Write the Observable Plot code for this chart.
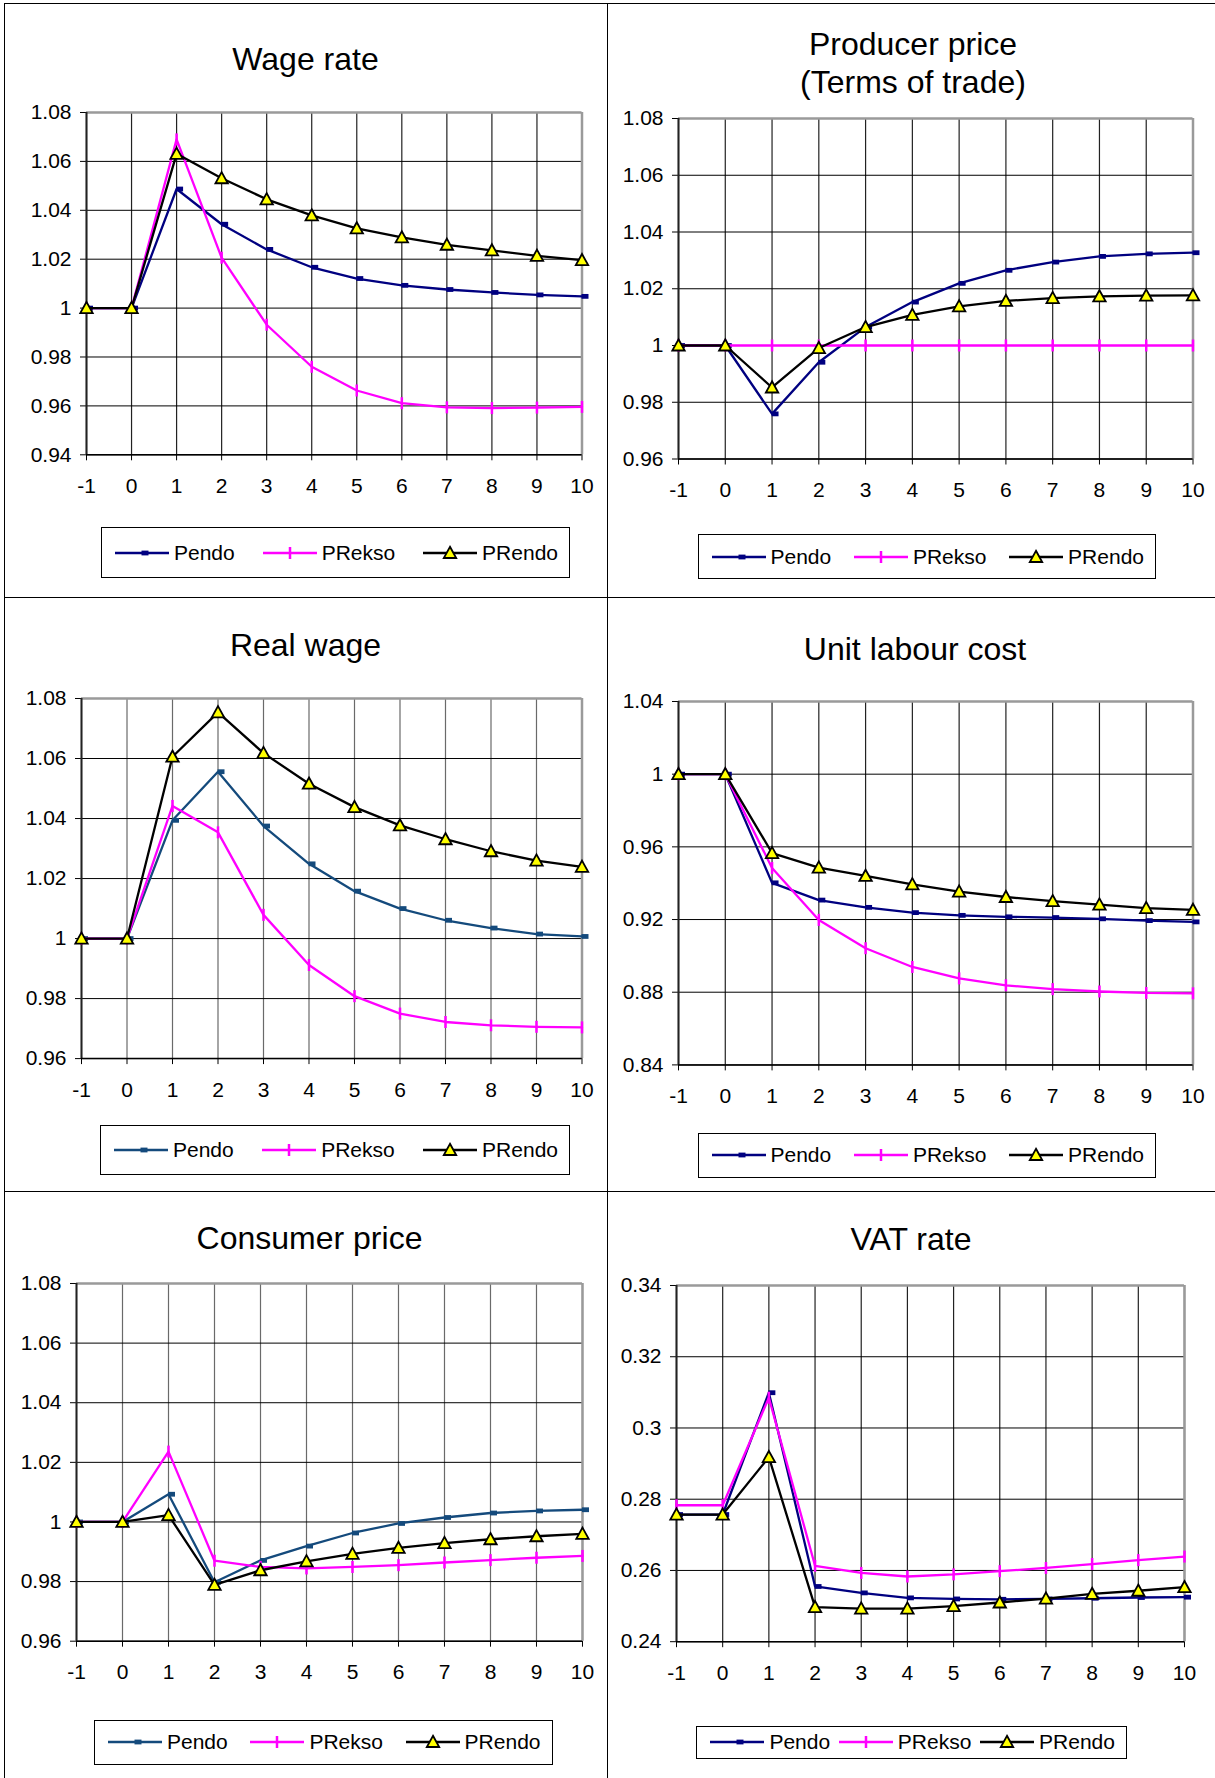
<!DOCTYPE html>
<html>
<head>
<meta charset="utf-8">
<script src="https://cdn.jsdelivr.net/npm/d3@7"></script>
<script src="https://cdn.jsdelivr.net/npm/@observablehq/plot@0.6"></script>
<style>
  html, body { margin: 0; padding: 0; background: #fff; }
  #page { position: relative; width: 1215px; height: 1778px; overflow: hidden; background: #fff;
          font-family: 'Liberation Sans', Arial, sans-serif; color: #000; }
  .abs { position: absolute; }
  .title { font-size: 32px; line-height: 38px; text-align: center; white-space: pre; }
  .legend { box-sizing: border-box; border: 1px solid #000; background: #fff; display: flex;
            align-items: center; justify-content: space-between; padding: 0 11px 0 13px; }
  .legend .item { display: flex; align-items: center; }
  .legend span { font-size: 21px; margin-left: 5px; line-height: 24px; }
  .hline { position: absolute; height: 0; border-top: 1.5px solid #000; }
  .vline { position: absolute; width: 0; border-left: 1.5px solid #000; }
  svg { max-width: none !important; }
</style>
</head>
<body>
<div id="page"></div>
<script>
// ---------- data ----------
const years = [-1, 0, 1, 2, 3, 4, 5, 6, 7, 8, 9, 10];
const seriesNames = ["Pendo", "PRekso", "PRendo"];

// Wage rate
const wagePendo  = [1, 1, 1.0487, 1.0343, 1.0240, 1.0167, 1.0121, 1.0093, 1.0076, 1.0064, 1.0054, 1.0048];
const wagePRekso = [1, 1, 1.0690, 1.0206, 0.9932, 0.9760, 0.9663, 0.9611, 0.9594, 0.9591, 0.9593, 0.9596];
const wagePRendo = [1, 1, 1.0631, 1.0531, 1.0445, 1.0379, 1.0326, 1.0289, 1.0259, 1.0236, 1.0214, 1.0196];
const wageTicks  = [0.94, 0.96, 0.98, 1, 1.02, 1.04, 1.06, 1.08];

// Producer price (Terms of trade)
const prodPendo  = [1, 1, 0.9759, 0.9941, 1.0065, 1.0153, 1.0219, 1.0265, 1.0294, 1.0314, 1.0323, 1.0327];
const prodPRekso = [1, 1, 1, 1, 1, 1, 1, 1, 1, 1, 1, 1];
const prodPRendo = [1, 1, 0.9852, 0.9991, 1.0065, 1.0108, 1.0138, 1.0157, 1.0167, 1.0173, 1.0176, 1.0177];
const prodTicks  = [0.96, 0.98, 1, 1.02, 1.04, 1.06, 1.08];

// Real wage
const realPendo  = [1, 1, 1.0394, 1.0556, 1.0375, 1.0249, 1.0158, 1.0100, 1.0061, 1.0035, 1.0015, 1.0007];
const realPRekso = [1, 1, 1.0442, 1.0354, 1.0079, 0.9912, 0.9808, 0.9750, 0.9722, 0.9711, 0.9706, 0.9704];
const realPRendo = [1, 1, 1.0606, 1.0754, 1.0618, 1.0516, 1.0438, 1.0377, 1.0331, 1.0291, 1.0260, 1.0239];
const realTicks  = [0.96, 0.98, 1, 1.02, 1.04, 1.06, 1.08];

// Unit labour cost
const ulcPendo  = [1, 1, 0.9402, 0.9307, 0.9267, 0.9238, 0.9223, 0.9215, 0.9211, 0.9204, 0.9194, 0.9187];
const ulcPRekso = [1, 1, 0.9484, 0.9198, 0.9042, 0.8939, 0.8876, 0.8838, 0.8817, 0.8804, 0.8796, 0.8794];
const ulcPRendo = [1, 1, 0.9566, 0.9486, 0.9440, 0.9394, 0.9354, 0.9324, 0.9301, 0.9282, 0.9263, 0.9253];
const ulcTicks  = [0.84, 0.88, 0.92, 0.96, 1, 1.04];

// Consumer price
const cpiPendo  = [1, 1, 1.0093, 0.9798, 0.9871, 0.9919, 0.9963, 0.9995, 1.0015, 1.0030, 1.0037, 1.0041];
const cpiPRekso = [1, 1, 1.0236, 0.9870, 0.9849, 0.9844, 0.9849, 0.9855, 0.9864, 0.9872, 0.9880, 0.9886];
const cpiPRendo = [1, 1, 1.0023, 0.9789, 0.9838, 0.9868, 0.9893, 0.9913, 0.9929, 0.9942, 0.9952, 0.9960];
const cpiTicks  = [0.96, 0.98, 1, 1.02, 1.04, 1.06, 1.08];

// VAT rate
const vatPendo  = [0.2757, 0.2757, 0.3099, 0.2555, 0.2537, 0.2523, 0.2520, 0.2519, 0.2520, 0.2522, 0.2524, 0.2525];
const vatPRekso = [0.2783, 0.2783, 0.3085, 0.2613, 0.2593, 0.2583, 0.2589, 0.2598, 0.2607, 0.2618, 0.2629, 0.2639];
const vatPRendo = [0.2757, 0.2757, 0.2918, 0.2497, 0.2493, 0.2493, 0.2500, 0.2510, 0.2521, 0.2534, 0.2543, 0.2553];
const vatTicks  = [0.24, 0.26, 0.28, 0.3, 0.32, 0.34];

// ---------- styling / layout ----------
const NAVY = "#000080", STEEL = "#144a7c", MAGENTA = "#ff00ff", BLACK = "#000000", YELLOW = "#ffff00";

const panels = [
  { title: "Wage rate", series: [wagePendo, wagePRekso, wagePRendo], ticks: wageTicks, pendoColor: NAVY, vgrid: "#222",
    frame: [86, 581.5, 112.4, 454.7], titleBox: [4, 603, 69.7], legend: [101, 527.4, 570, 578] },
  { title: "Producer price\n(Terms of trade)", series: [prodPendo, prodPRekso, prodPRendo], ticks: prodTicks, pendoColor: NAVY, vgrid: "#222",
    frame: [677.5, 1192, 118.3, 458.8], titleBox: [609, 608, 54.7], legend: [697.5, 534, 1156, 579.3] },
  { title: "Real wage", series: [realPendo, realPRekso, realPRendo], ticks: realTicks, pendoColor: STEEL, vgrid: "#6a6a6a",
    frame: [81, 581.5, 697.9, 1058], titleBox: [4, 603, 655.8], legend: [100, 1124.6, 570, 1174.8] },
  { title: "Unit labour cost", series: [ulcPendo, ulcPRekso, ulcPRendo], ticks: ulcTicks, pendoColor: NAVY, vgrid: "#222",
    frame: [677.5, 1192, 701.4, 1064.8], titleBox: [609, 612, 659.7], legend: [697.5, 1132.7, 1156, 1178.2] },
  { title: "Consumer price", series: [cpiPendo, cpiPRekso, cpiPRendo], ticks: cpiTicks, pendoColor: STEEL, vgrid: "#6a6a6a",
    frame: [75.5, 581.5, 1282.6, 1640.3], titleBox: [8, 603, 1248.9], legend: [94, 1720, 552.5, 1764.5] },
  { title: "VAT rate", series: [vatPendo, vatPRekso, vatPRendo], ticks: vatTicks, pendoColor: NAVY, vgrid: "#222",
    frame: [676, 1184, 1285, 1641.2], titleBox: [607, 608, 1250], legend: [696.4, 1725.5, 1127, 1759.3] }
];

// custom marker shapes
const rectSym = { draw(ctx) { ctx.rect(-0.5, -2.4, 7, 4.8); } };
const barSym  = { draw(ctx) { ctx.moveTo(0, -6); ctx.lineTo(0, 6); } };
const triSym  = { draw(ctx) { ctx.moveTo(0, -6.2); ctx.lineTo(6.2, 5); ctx.lineTo(-6.2, 5); ctx.closePath(); } };

const page = document.getElementById("page");

// outer border and dividers
function hline(x1, x2, y) { const d = document.createElement("div"); d.className = "hline";
  d.style.left = x1 + "px"; d.style.width = (x2 - x1) + "px"; d.style.top = y + "px"; page.appendChild(d); }
function vline(x, y1, y2) { const d = document.createElement("div"); d.className = "vline";
  d.style.left = x + "px"; d.style.top = y1 + "px"; d.style.height = (y2 - y1) + "px"; page.appendChild(d); }
hline(4, 1215, 2.5); hline(4, 1215, 596.8); hline(4, 1215, 1190.5);
vline(3.8, 2.5, 1778); vline(606.5, 2.5, 1778);

const ML = 80, MT = 20, MR = 32, MB = 52;

panels.forEach(p => {
  const [x1, x2, y1, y2] = p.frame;
  const ymin = p.ticks[0], ymax = p.ticks[p.ticks.length - 1];
  const colors = [p.pendoColor, MAGENTA, BLACK];
  const data = p.series.map((vals, si) => years.map((yr, i) => ({ year: yr, value: vals[i], name: seriesNames[si] })));
  const W = (x2 - x1) + ML + MR, H = (y2 - y1) + MT + MB;

  const chart = Plot.plot({
    width: W,
    height: H,
    marginLeft: ML, marginRight: MR, marginTop: MT, marginBottom: MB,
    style: { fontFamily: "'Liberation Sans', Arial, sans-serif", fontSize: "21px", color: "#000", background: "none", overflow: "visible", maxWidth: "none" },
    x: { domain: [-1, 10], ticks: years, tickFormat: d => String(d), tickSize: 6, tickPadding: 17, label: null },
    y: { domain: [ymin, ymax], ticks: p.ticks, tickFormat: d => String(d), tickSize: 6, tickPadding: 9, label: null },
    marks: [
      Plot.ruleX(years, { stroke: p.vgrid, strokeWidth: 1.2 }),
      Plot.ruleY(p.ticks, { stroke: "#000", strokeWidth: 1 }),
      Plot.ruleY([ymax], { stroke: "#9a9a9a", strokeWidth: 2.5 }),
      Plot.ruleX([10], { stroke: "#9a9a9a", strokeWidth: 2.5 }),
      Plot.ruleX([-1], { stroke: "#222", strokeWidth: 2 }),
      Plot.ruleY([ymin], { stroke: "#000", strokeWidth: 1.5 }),
      Plot.line(data[0], { x: "year", y: "value", stroke: colors[0], strokeWidth: 2.3 }),
      Plot.dot(data[0], { x: "year", y: "value", symbol: rectSym, r: 3, fill: colors[0], stroke: "none" }),
      Plot.line(data[1], { x: "year", y: "value", stroke: colors[1], strokeWidth: 2.3 }),
      Plot.dot(data[1], { x: "year", y: "value", symbol: barSym, r: 3, fill: "none", stroke: colors[1], strokeWidth: 2.5 }),
      Plot.line(data[2], { x: "year", y: "value", stroke: colors[2], strokeWidth: 2.3 }),
      Plot.dot(data[2], { x: "year", y: "value", symbol: triSym, r: 3, fill: YELLOW, stroke: "#000", strokeWidth: 1.8 })
    ]
  });
  chart.style.maxWidth = "none";
  const holder = document.createElement("div");
  holder.className = "abs";
  holder.style.left = (x1 - ML) + "px";
  holder.style.top = (y1 - MT) + "px";
  holder.style.width = W + "px";
  holder.style.height = H + "px";
  holder.appendChild(chart);
  page.appendChild(holder);

  // title
  const [tl, tw, baseline] = p.titleBox;
  const t = document.createElement("div");
  t.className = "abs title";
  t.style.left = tl + "px"; t.style.width = tw + "px";
  t.style.top = (baseline - 30.1) + "px";
  t.textContent = p.title;
  page.appendChild(t);

  // legend
  const [lx1, ly1, lx2, ly2] = p.legend;
  const lg = document.createElement("div");
  lg.className = "abs legend";
  lg.style.left = lx1 + "px"; lg.style.top = ly1 + "px";
  lg.style.width = (lx2 - lx1) + "px"; lg.style.height = (ly2 - ly1) + "px";
  const markers = [
    c => `<rect x="26.5" y="5.6" width="7" height="4.8" fill="${c}"/>`,
    c => `<line x1="27" x2="27" y1="2" y2="14" stroke="${c}" stroke-width="2.5"/>`,
    c => `<path d="M27,1.8L33.2,13L20.8,13Z" fill="${YELLOW}" stroke="#000" stroke-width="1.8"/>`
  ];
  seriesNames.forEach((name, si) => {
    const item = document.createElement("div");
    item.className = "item";
    item.innerHTML = `<svg width="54" height="16" style="display:block;overflow:visible">
      <line x1="0" x2="54" y1="8" y2="8" stroke="${colors[si]}" stroke-width="2.3"/>${markers[si](colors[si])}</svg><span>${name}</span>`;
    lg.appendChild(item);
  });
  page.appendChild(lg);
});
</script>
</body>
</html>
